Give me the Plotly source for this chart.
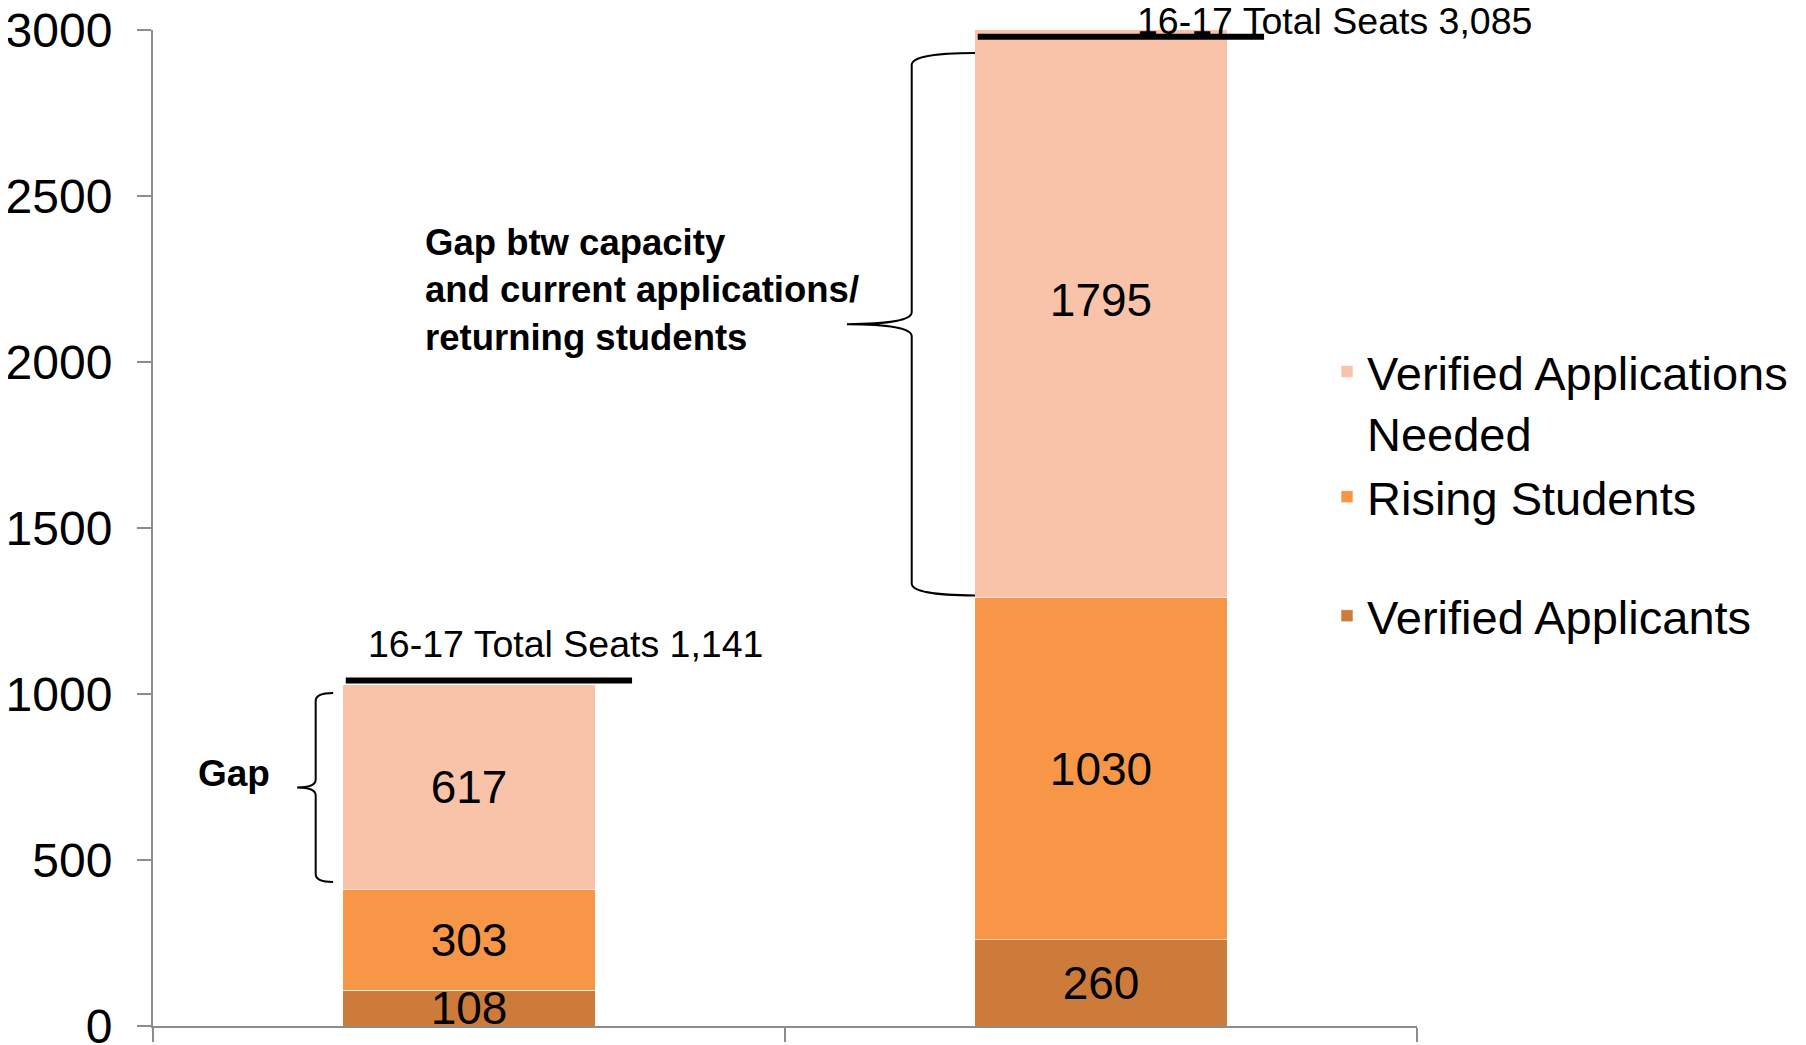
import plotly.graph_objects as go

# ---------------- data ----------------
categories = ["Group 1", "Group 2"]
verified_applicants = [108, 260]
rising_students = [303, 1030]
applications_needed = [617, 1795]

seat_labels = ["16-17 Total Seats 1,141", "16-17 Total Seats 3,085"]
seat_line_levels = [1041, 2980]          # where the black "total seats" bars are drawn
y_ticks = [0, 500, 1000, 1500, 2000, 2500, 3000]

series_names = ["Verified Applicants", "Rising Students", "Verified Applications<br>Needed"]
series_colors = ["#CD7B3A", "#F79646", "#F9C3A9"]
series_groups = ["b", "a", "a"]
series_ranks = [3, 2, 1]

FONT = "Arial, 'Liberation Sans', sans-serif"

fig = go.Figure()
for vals, name, color, grp, rank in zip(
    [verified_applicants, rising_students, applications_needed],
    series_names, series_colors, series_groups, series_ranks,
):
    fig.add_trace(go.Bar(
        x=categories, y=vals, name=name,
        marker=dict(color=color, line=dict(color="rgba(255,255,255,0.6)", width=1)),
        width=0.4,
        text=[str(v) for v in vals],
        textposition="inside",
        insidetextanchor="middle",
        textfont=dict(family=FONT, size=46, color="black"),
        legendgroup=grp,
        legendrank=rank,
    ))

# ---------- total-seat lines and labels ----------
shapes = []
annotations = []
for i, lvl in enumerate(seat_line_levels):
    shapes.append(dict(type="line", xref="x", yref="y",
                       x0=i - 0.195, x1=i + 0.258, y0=lvl, y1=lvl,
                       line=dict(color="black", width=6)))
annotations.append(dict(x=0.152, y=1152, xref="x", yref="y", text=seat_labels[0],
                        showarrow=False, xanchor="center", yanchor="middle",
                        font=dict(family=FONT, size=37.5, color="black")))
annotations.append(dict(x=1.369, y=1.0095, xref="x", yref="paper", text=seat_labels[1],
                        showarrow=False, xanchor="center", yanchor="middle",
                        font=dict(family=FONT, size=37.5, color="black")))


# ---------- curly braces ----------
def cat_to_paper(c):
    return (c + 0.5) / 2.0


def brace_path(c_line, c_end, c_tip, y_top, y_bot, ry):
    l = cat_to_paper(c_line)
    e = cat_to_paper(c_end)
    t = cat_to_paper(c_tip)
    mid = (y_top + y_bot) / 2.0
    k = 0.35
    p = []
    p.append(f"M {e:.5f},{y_top:.2f}")
    p.append(f"C {l + (e - l) * k:.5f},{y_top:.2f} {l:.5f},{y_top - ry * k:.2f} {l:.5f},{y_top - ry:.2f}")
    p.append(f"L {l:.5f},{mid + ry:.2f}")
    p.append(f"C {l:.5f},{mid + ry * k:.2f} {l - (l - t) * k:.5f},{mid:.2f} {t:.5f},{mid:.2f}")
    p.append(f"C {l - (l - t) * k:.5f},{mid:.2f} {l:.5f},{mid - ry * k:.2f} {l:.5f},{mid - ry:.2f}")
    p.append(f"L {l:.5f},{y_bot + ry:.2f}")
    p.append(f"C {l:.5f},{y_bot + ry * k:.2f} {l + (e - l) * k:.5f},{y_bot:.2f} {e:.5f},{y_bot:.2f}")
    return " ".join(p)


shapes.append(dict(type="path", xref="paper", yref="y",
                   path=brace_path(0.7005, 0.8006, 0.598, 2931, 1297, 36),
                   line=dict(color="black", width=2)))
shapes.append(dict(type="path", xref="paper", yref="y",
                   path=brace_path(-0.2426, -0.215, -0.272, 1003, 434, 24),
                   line=dict(color="black", width=2)))

annotations.append(dict(x=(423 - 153) / 1264, y=2216, xref="paper", yref="y",
                        text="<b>Gap btw capacity<br>and current applications/<br>returning students</b>",
                        showarrow=False, xanchor="left", yanchor="middle", align="left",
                        font=dict(family=FONT, size=36.5, color="black")))
annotations.append(dict(x=(196 - 153) / 1264, y=762, xref="paper", yref="y",
                        text="<b>Gap</b>",
                        showarrow=False, xanchor="left", yanchor="middle", align="left",
                        font=dict(family=FONT, size=37, color="black")))

axis_color = "#8C8C8C"
fig.update_layout(
    barmode="stack",
    width=1806, height=1045,
    margin=dict(l=145, r=397, t=21.5, b=27, pad=0, autoexpand=False),
    paper_bgcolor="white", plot_bgcolor="white",
    font=dict(family=FONT, color="black"),
    showlegend=True,
    legend=dict(
        x=(1327 - 153) / 1264, xanchor="left",
        y=0.6944, yanchor="top",
        traceorder="grouped",
        tracegroupgap=55,
        valign="top",
        font=dict(family=FONT, size=47, color="black"),
        bgcolor="rgba(0,0,0,0)",
    ),
    uniformtext=dict(minsize=46, mode="show"),
    shapes=shapes,
    annotations=annotations,
    xaxis=dict(
        type="category", range=[-0.5, 1.5], automargin=False,
        showticklabels=False, tickson="boundaries",
        ticks="outside", ticklen=14, tickcolor=axis_color, tickwidth=2,
        showline=True, linecolor=axis_color, linewidth=2,
        showgrid=False, zeroline=False, fixedrange=True,
    ),
    yaxis=dict(
        range=[0, 3000], tickvals=y_ticks, automargin=False,
        ticks="outside", ticklen=14, tickcolor=axis_color, tickwidth=2,
        ticklabelstandoff=15, ticklabeloverflow="allow",
        tickfont=dict(family=FONT, size=48, color="black"),
        showline=True, linecolor=axis_color, linewidth=2,
        showgrid=False, zeroline=False, fixedrange=True,
    ),
)

fig.write_html("out.html")
